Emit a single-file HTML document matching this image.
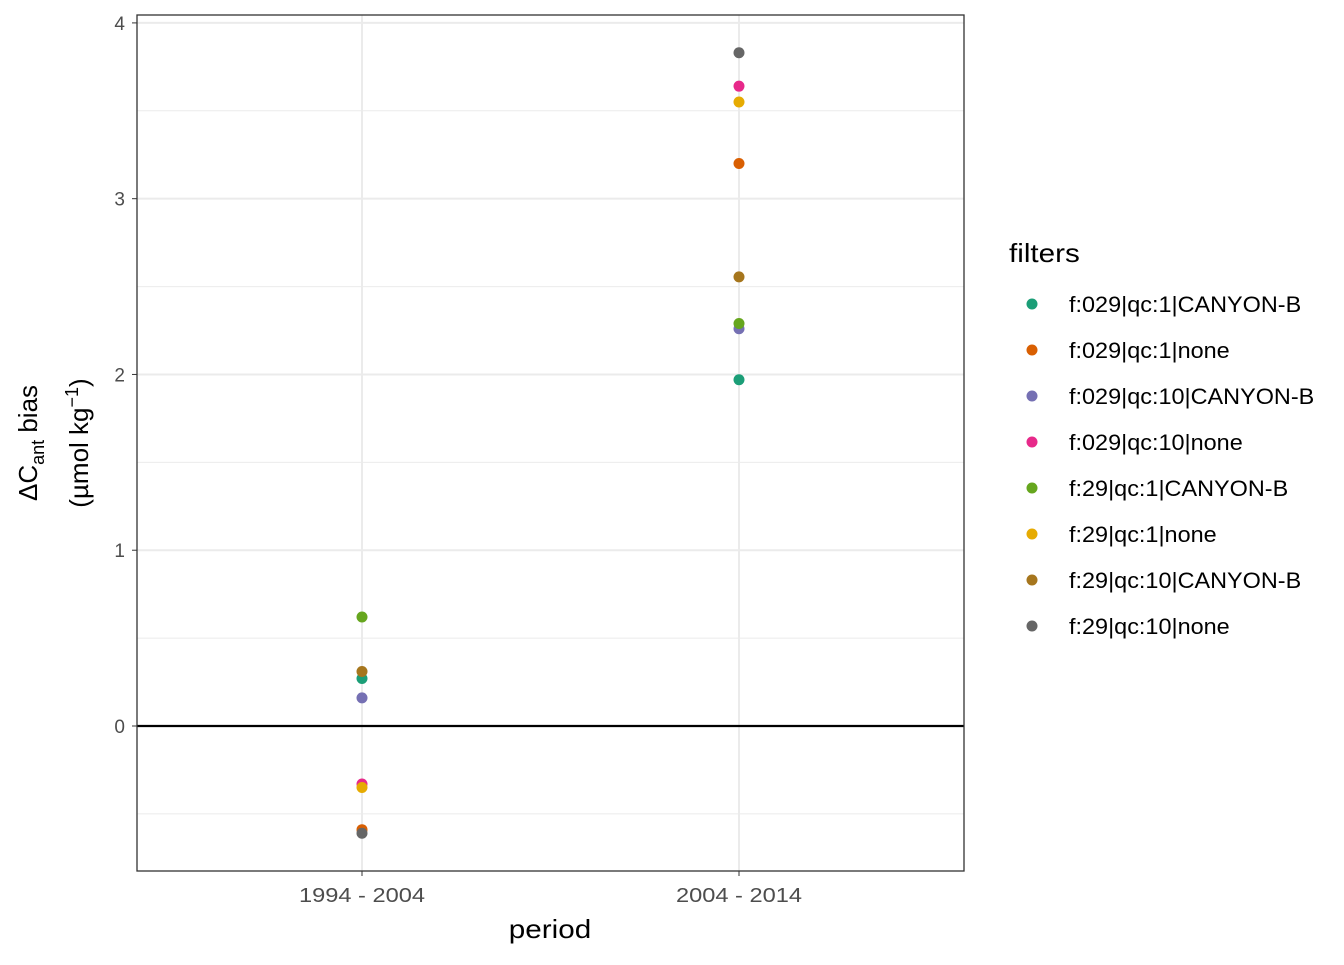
<!DOCTYPE html>
<html><head><meta charset="utf-8"><style>
body{margin:0;background:#fff;font-family:"Liberation Sans",sans-serif;}
svg text{font-family:"Liberation Sans",sans-serif;}
</style></head><body>
<svg id="chart" width="1344" height="960">
<g id="grid"></g><g id="marks"></g><g id="axes"></g>
<g id="legend"></g>
</svg>
<script>
const categories = ["1994 - 2004", "2004 - 2014"];
const seriesNames = ["f:029|qc:1|CANYON-B","f:029|qc:1|none","f:029|qc:10|CANYON-B","f:029|qc:10|none","f:29|qc:1|CANYON-B","f:29|qc:1|none","f:29|qc:10|CANYON-B","f:29|qc:10|none"];
const colors = ["#1B9E77","#D95F02","#7570B3","#E7298A","#66A61E","#E6AB02","#A6761D","#666666"];
const values1994 = [0.27, -0.59, 0.16, -0.33, 0.62, -0.35, 0.31, -0.61];
const values2004 = [1.97, 3.20, 2.26, 3.64, 2.29, 3.55, 2.555, 3.83];
const yTicks = [0, 1, 2, 3, 4];
const yMinor = [-0.5, 0.5, 1.5, 2.5, 3.5];

const NS = "http://www.w3.org/2000/svg";
const L = 137, R = 964, T = 15, B = 871;
const yMin = -0.825, yMax = 4.045;
const y = v => B - (v - yMin) / (yMax - yMin) * (B - T);
const x = i => [362, 739][i];
function mk(tag, attrs, parent) { const e = document.createElementNS(NS, tag); for (const k in attrs) e.setAttribute(k, attrs[k]); parent.appendChild(e); return e; }
function widen(t, f) { const w = t.getComputedTextLength(); t.setAttribute('textLength', w * f); t.setAttribute('lengthAdjust', 'spacingAndGlyphs'); }
const grid = document.getElementById('grid'), marks = document.getElementById('marks'), axes = document.getElementById('axes'), legend = document.getElementById('legend');
mk('rect', {x: L, y: T, width: R - L, height: B - T, fill: '#fff'}, grid);
yMinor.forEach(v => { const l = mk('line', {x1: L, x2: R, y1: y(v), y2: y(v), stroke: '#ebebeb', 'stroke-width': 1}, grid);   });
yTicks.forEach(v => {
  const l = mk('line', {x1: L, x2: R, y1: y(v), y2: y(v), stroke: '#ebebeb', 'stroke-width': 2}, grid);
   
  mk('line', {x1: L - 5, x2: L, y1: y(v), y2: y(v), stroke: '#333', 'stroke-width': 1}, axes);
  const t = mk('text', {x: L - 12, y: y(v) + 7, 'text-anchor': 'end', 'font-size': 19, fill: '#4d4d4d'}, axes);
  t.textContent = v;
   
});
categories.forEach((c, i) => {
  const l = mk('line', {x1: x(i), x2: x(i), y1: T, y2: B, stroke: '#ebebeb', 'stroke-width': 2}, grid);
   
  mk('line', {x1: x(i), x2: x(i), y1: B, y2: B + 5, stroke: '#333', 'stroke-width': 1}, axes);
  const t = mk('text', {x: x(i), y: B + 31, 'text-anchor': 'middle', 'font-size': 20, fill: '#4d4d4d'}, axes);
  t.textContent = c;
  widen(t, 1.18);
   
});
const zl = mk('line', {x1: L, x2: R, y1: y(0), y2: y(0), stroke: '#000', 'stroke-width': 2.2}, marks);
 
[values1994, values2004].forEach((vals, i) => {
  vals.forEach((v, s) => {
    const c = mk('circle', {cx: x(i), cy: y(v), r: 5.5, fill: colors[s]}, marks);
    
    
  });
});
const border = mk('rect', {x: L, y: T, width: R - L, height: B - T, fill: 'none', stroke: '#333', 'stroke-width': 1.3}, axes);
 
const xt = mk('text', {x: 550, y: 938, 'text-anchor': 'middle', 'font-size': 26, fill: '#000'}, axes);
xt.textContent = 'period';
widen(xt, 1.14);
 
const yt = mk('text', {transform: 'translate(37,443) rotate(-90)', 'text-anchor': 'middle', 'font-size': 26, fill: '#000'}, axes);
yt.innerHTML = 'ΔC<tspan font-size="18" dy="7">ant</tspan><tspan dy="-7"> bias</tspan>';
 
const yt2 = mk('text', {transform: 'translate(88,443) rotate(-90)', 'text-anchor': 'middle', 'font-size': 26, fill: '#000'}, axes);
yt2.innerHTML = '(µmol kg<tspan font-size="18" dy="-10">−1</tspan><tspan dy="10">)</tspan>';
 
const lt = mk('text', {x: 1009, y: 262, 'font-size': 26, fill: '#000'}, legend);
lt.textContent = 'filters';
widen(lt, 1.14);
 
seriesNames.forEach((n, s) => {
  const g = mk('g', {}, legend);
   
  const yy = 304 + s * 46;
  mk('circle', {cx: 1032, cy: yy, r: 5.5, fill: colors[s]}, g);
  const t = mk('text', {x: 1069, y: yy + 8, 'font-size': 22, fill: '#000'}, g);
  t.textContent = n;
  widen(t, 1.065);
});
</script>
</body></html>
